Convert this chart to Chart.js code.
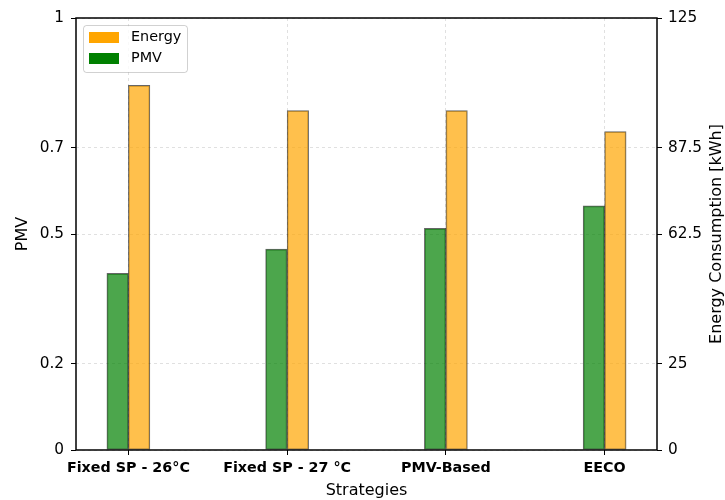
<!DOCTYPE html>
<html>
<head>
<meta charset="utf-8">
<script src="https://cdn.jsdelivr.net/npm/chart.js@4/dist/chart.umd.min.js"></script>
<style>
  html, body { margin: 0; padding: 0; background: #fff; }
  #wrap { width: 725px; height: 500px; }
</style>
</head>
<body>
<div id="wrap"><canvas id="chart" width="725" height="500"></canvas></div>
<script>
// Datos
const strategies = ['Fixed SP - 26\u00b0C', 'Fixed SP - 27 \u00b0C', 'PMV-Based', 'EECO'];
const pmvValues = [0.409, 0.465, 0.513, 0.565];
const energyValues = [105.5, 98.2, 98.2, 92.1];
const pmvTicks = [0, 0.2, 0.5, 0.7, 1];
const energyTicks = [0, 25, 62.5, 87.5, 125];

const FONT = 'DejaVu Sans';
const gridColor = 'rgba(0, 0, 0, 0.12)';

// marco negro, titulos verticales y leyenda dentro del area
const framePlugin = {
  id: 'frame',
  afterDraw(chart) {
    const { ctx, chartArea: a } = chart;
    ctx.save();
    ctx.strokeStyle = '#000';
    ctx.lineWidth = 1.5;
    ctx.strokeRect(a.left, a.top, a.right - a.left, a.bottom - a.top);

    // titulos de los ejes Y (ambos leidos de abajo hacia arriba)
    const cy = (a.top + a.bottom) / 2;
    ctx.fillStyle = '#000';
    ctx.font = '16px ' + FONT;
    ctx.textAlign = 'center';
    ctx.textBaseline = 'middle';
    [[23, 'PMV'], [717, 'Energy Consumption [kWh]']].forEach(([tx, txt]) => {
      ctx.save();
      ctx.translate(tx, cy);
      ctx.rotate(-Math.PI / 2);
      ctx.fillText(txt, 0, 0);
      ctx.restore();
    });

    // leyenda
    const x = a.left + 7, y = a.top + 7, w = 104, h = 47;
    ctx.fillStyle = 'rgba(255,255,255,0.8)';
    ctx.strokeStyle = 'rgba(0,0,0,0.18)';
    ctx.lineWidth = 1;
    ctx.beginPath();
    ctx.roundRect(x + 0.5, y + 0.5, w, h, 3);
    ctx.fill();
    ctx.stroke();
    const items = [['Energy', '#FFA500'], ['PMV', '#008000']];
    ctx.font = '14.4px ' + FONT;
    ctx.textAlign = 'left';
    items.forEach((it, i) => {
      const ly = y + 12.5 + i * 21;
      ctx.fillStyle = it[1];
      ctx.fillRect(x + 6, ly - 5.5, 30, 11);
      ctx.fillStyle = '#000';
      ctx.fillText(it[0], x + 48, ly);
    });
    ctx.restore();
  }
};

new Chart(document.getElementById('chart'), {
  type: 'bar',
  data: {
    datasets: [{
      label: 'PMV',
      data: pmvValues.map((v, i) => ({ x: i, y: v })),
      yAxisID: 'y',
      backgroundColor: 'rgba(0, 128, 0, 0.7)',
      borderColor: 'rgba(0, 0, 0, 0.6)',
      borderWidth: 1,
      borderSkipped: false,
      barThickness: 21.5
    }, {
      label: 'Energy',
      data: energyValues.map((v, i) => ({ x: i, y: v })),
      yAxisID: 'y1',
      backgroundColor: 'rgba(255, 165, 0, 0.7)',
      borderColor: 'rgba(0, 0, 0, 0.6)',
      borderWidth: 1,
      borderSkipped: false,
      barThickness: 21.5
    }]
  },
  options: {
    responsive: false,
    animation: false,
    layout: { padding: { top: 18, left: 0, right: 0, bottom: 0 } },
    plugins: {
      legend: { display: false },
      tooltip: { enabled: false }
    },
    scales: {
      x: {
        type: 'linear',
        offset: false,
        min: -0.33,
        max: 3.33,
        afterBuildTicks: (s) => { s.ticks = strategies.map((_, i) => ({ value: i })); },
        afterFit: (s) => { s.height = 50; },
        ticks: {
          color: '#000',
          padding: 5,
          maxRotation: 0,
          autoSkip: false,
          font: { family: FONT, size: 14.3, weight: 'bold' },
          callback: (v) => strategies[v] ?? ''
        },
        grid: { offset: false, color: gridColor, tickColor: '#000', tickLength: 5, tickWidth: 1 },
        border: { display: false, dash: [3, 3] },
        title: {
          display: true, text: 'Strategies', color: '#000',
          font: { family: FONT, size: 16 }, padding: { top: 0, bottom: 0 }
        }
      },
      y: {
        position: 'left',
        min: 0, max: 1,
        afterBuildTicks: (s) => { s.ticks = pmvTicks.map(v => ({ value: v })); },
        afterFit: (s) => { s.width = 76; },
        ticks: {
          color: '#000', padding: 7,
          font: { family: FONT, size: 15.3 },
          callback: (v) => String(v)
        },
        grid: { color: gridColor, tickColor: '#000', tickLength: 5, tickWidth: 1 },
        border: { display: false, dash: [3, 3] }
      },
      y1: {
        position: 'right',
        min: 0, max: 125,
        afterBuildTicks: (s) => { s.ticks = energyTicks.map(v => ({ value: v })); },
        afterFit: (s) => { s.width = 68; },
        ticks: {
          color: '#000', padding: 6,
          font: { family: FONT, size: 15.3 },
          callback: (v) => String(v)
        },
        grid: { drawOnChartArea: false, color: gridColor, tickColor: '#000', tickLength: 5, tickWidth: 1 },
        border: { display: false }
      }
    }
  },
  plugins: [framePlugin]
});
</script>
</body>
</html>
